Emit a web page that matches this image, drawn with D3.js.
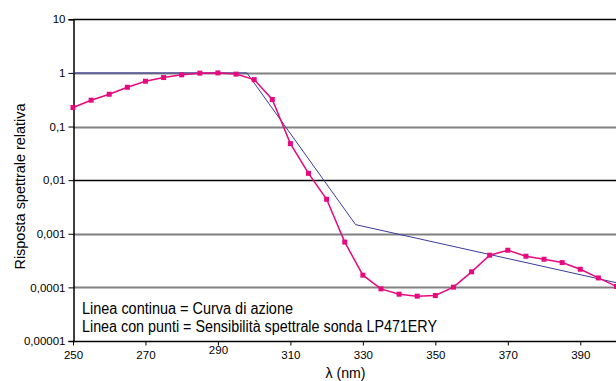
<!DOCTYPE html>
<html>
<head>
<meta charset="utf-8">
<script src="https://cdn.jsdelivr.net/npm/d3@7"></script>
<style>
  html, body { margin: 0; padding: 0; background: #fff; }
  svg { display: block; }
  text { font-family: "Liberation Sans Narrow", "Arial Narrow", "Liberation Sans", Arial, sans-serif; fill: #000; }
</style>
</head>
<body>
<svg id="chart" width="616" height="381"></svg>
<script>
// Wavelengths (nm) of the probe's measured spectral sensitivity
const wavelengths = [250, 255, 260, 265, 270, 275, 280, 285, 290, 295, 300, 305, 310, 315, 320,
  325, 330, 335, 340, 345, 350, 355, 360, 365, 370, 375, 380, 385, 390, 395, 400];
// Relative spectral sensitivity of probe LP471ERY
const sensitivity = [0.226, 0.31, 0.40, 0.54, 0.70, 0.82, 0.92, 0.99, 1.0, 0.95, 0.75, 0.32, 0.048, 0.0134, 0.0044,
  0.00070, 0.000169, 0.0000938, 0.0000746, 0.0000686, 0.0000705, 0.000101, 0.000195, 0.000398, 0.000493, 0.000381, 0.000335, 0.00029, 0.000218, 0.000150, 0.000104];
// Action curve break points
const actionWavelengths = [250, 298, 328, 400];
const actionValues = [1, 1, 0.00148, 0.000122];
// Axis ticks
const xTicks = [250, 270, 290, 310, 330, 350, 370, 390];
const yTicks = [10, 1, 0.1, 0.01, 0.001, 0.0001, 0.00001];
const yTickLabels = ["10", "1", "0,1", "0,01", "0,001", "0,0001", "0,00001"];
const legendLines = ["Linea continua = Curva di azione", "Linea con punti = Sensibilità spettrale sonda LP471ERY"];
const legendWidths = [211, 355];

const svg = d3.select("#chart");
const plotLeft = 73, plotRight = 616.5, plotTop = 19.3, plotBottom = 341;

const x = d3.scaleLinear().domain([250, 400]).range([plotLeft, plotRight]);
const y = d3.scaleLog().domain([0.00001, 10]).range([plotBottom, plotTop]);

// Horizontal grid lines
const darkGrid = new Set([10, 0.01]);
svg.append("g").selectAll("line").data(yTicks.filter(d => d !== 0.00001)).join("line")
  .attr("x1", plotLeft).attr("x2", 616)
  .attr("y1", d => Math.round(y(d)) + 0.5).attr("y2", d => Math.round(y(d)) + 0.5)
  .attr("stroke", d => darkGrid.has(d) ? "#000" : "#808080")
  .attr("stroke-width", d => darkGrid.has(d) ? 1.3 : 1.8);

// Y axis
const yAxis = d3.axisLeft(y).tickValues(yTicks).tickSize(5).tickPadding(3)
  .tickFormat((d, i) => yTickLabels[i]);
const gy = svg.append("g").attr("transform", `translate(${plotLeft + 0.5},0)`).call(yAxis);
gy.select(".domain").attr("stroke", "#000").attr("stroke-width", 1.5);
gy.selectAll(".tick line").attr("stroke", "#000");
gy.selectAll(".tick text").attr("font-size", 11.5);

// X axis
const xAxis = d3.axisBottom(x).tickValues(xTicks).tickSize(4).tickPadding(5).tickFormat(d3.format("d"));
const gx = svg.append("g").attr("transform", `translate(0,${plotBottom + 0.5})`).call(xAxis);
gx.select(".domain").attr("stroke", "#000").attr("stroke-width", 1.5).attr("d", `M${plotLeft},0H616`);
gx.selectAll(".tick line").attr("stroke", "#000");
gx.selectAll(".tick text").attr("font-size", 11.5)
  .attr("dy", d => d === 290 ? "0.31em" : "0.71em");
svg.selectAll("g[font-family]").attr("font-family", null);

// Action curve
const line = d3.line().x(d => x(d[0])).y(d => y(d[1]));
svg.append("path")
  .datum(actionWavelengths.map((w, i) => [w, actionValues[i]]))
  .attr("d", line)
  .attr("fill", "none").attr("stroke", "#3b3b9b").attr("stroke-width", 1);

// Probe sensitivity with square markers
const pts = wavelengths.map((w, i) => [w, sensitivity[i]]);
svg.append("path").datum(pts).attr("d", line)
  .attr("fill", "none").attr("stroke", "#e6097f").attr("stroke-width", 1.5);
svg.append("g").selectAll("rect").data(pts).join("rect")
  .attr("x", d => x(d[0]) - 2.5).attr("y", d => y(d[1]) - 2.5)
  .attr("width", 5).attr("height", 5).attr("fill", "#e6097f");

// Legend text inside the plot (condensed face)
svg.append("g").selectAll("text").data(legendLines).join("text")
  .attr("x", 82).attr("y", (d, i) => 314 + i * 18.3)
  .attr("font-size", 16)
  .attr("textLength", (d, i) => legendWidths[i]).attr("lengthAdjust", "spacingAndGlyphs")
  .text(d => d);

// Axis titles
svg.append("text").attr("transform", "translate(24.5,186.5) rotate(-90)")
  .attr("text-anchor", "middle").attr("font-size", 15)
  .attr("textLength", 166).attr("lengthAdjust", "spacingAndGlyphs")
  .text("Risposta spettrale relativa");
svg.append("text").attr("x", 345.5).attr("y", 377.5).attr("text-anchor", "middle")
  .attr("font-size", 15).attr("textLength", 40).attr("lengthAdjust", "spacingAndGlyphs")
  .text("λ (nm)");
</script>
</body>
</html>
